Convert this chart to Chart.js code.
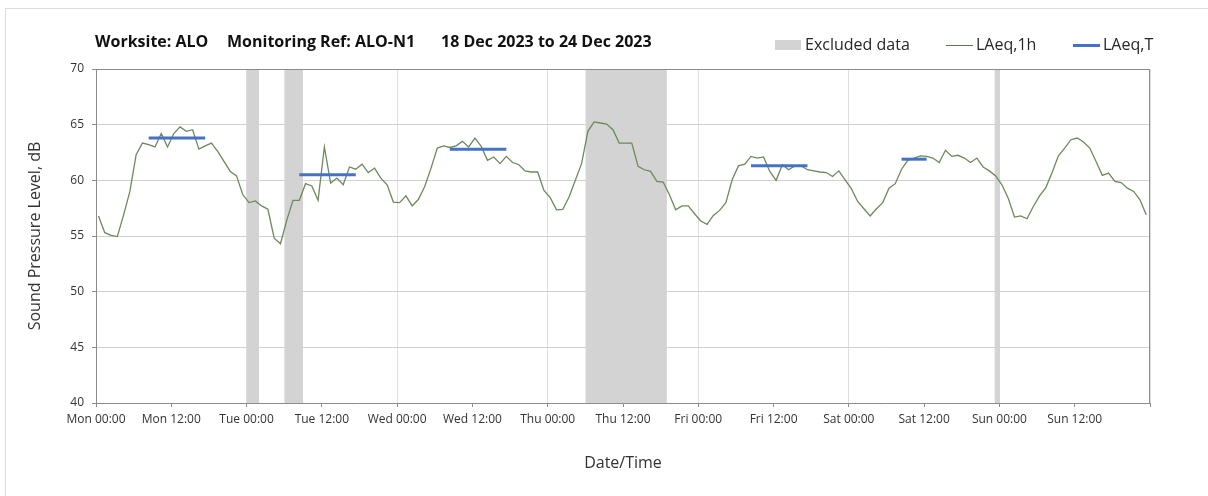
<!DOCTYPE html>
<html>
<head>
<meta charset="utf-8">
<script src="https://cdn.jsdelivr.net/npm/chart.js@4.4.1/dist/chart.umd.min.js"></script>
<style>
  html, body { margin: 0; padding: 0; background: #fff; }
  body { width: 1208px; height: 496px; position: relative; overflow: hidden; font-family: "Open Sans", sans-serif; }
  .frame { position: absolute; left: 5px; top: 8px; width: 1300px; height: 600px; border-left: 1px solid #dcdcdc; border-top: 1px solid #dcdcdc; }
  canvas { position: absolute; left: 0; top: 0; }
  .head { position: absolute; top: 31px; line-height: 20px; white-space: nowrap; }
  .title { font-weight: 700; font-size: 16px; color: #111; }
  .leg { top: 34px; font-size: 16px; color: #262626; }
  .sw { position: absolute; }
</style>
</head>
<body>
<div class="frame"></div>
<canvas id="chart" width="1208" height="496"></canvas>

<div class="head title" style="left:95px">Worksite: ALO</div>
<div class="head title" style="left:227px">Monitoring Ref: ALO-N1</div>
<div class="head title" style="left:441px">18 Dec 2023 to 24 Dec 2023</div>

<div class="sw" style="left:775px;top:40px;width:26px;height:10px;background:#d3d3d3"></div>
<div class="head leg" style="left:805px">Excluded data</div>
<div class="sw" style="left:946px;top:45px;width:27px;height:1px;background:#5d7b4e"></div>
<div class="head leg" style="left:976px">LAeq,1h</div>
<div class="sw" style="left:1073px;top:44px;width:27px;height:3px;background:#4472c4"></div>
<div class="head leg" style="left:1103px">LAeq,T</div>

<script>
// x axis labels, one every 12 hours (last one at 168h left blank)
const tickLabels = ['Mon 00:00', 'Mon 12:00', 'Tue 00:00', 'Tue 12:00', 'Wed 00:00', 'Wed 12:00',
  'Thu 00:00', 'Thu 12:00', 'Fri 00:00', 'Fri 12:00', 'Sat 00:00', 'Sat 12:00',
  'Sun 00:00', 'Sun 12:00', '']

// hourly readings start a little after the hour
const firstHour = 0.4

// LAeq,1h - one value per hour, Mon 00:00 .. Sun 23:00
const laeq1h = [
  56.8, 55.3, 55.05, 54.95, 56.9, 59.0, 62.3, 63.35, 63.2, 63.0, 64.2, 63.0,
  64.2, 64.8, 64.4, 64.55, 62.8, 63.1, 63.35, 62.6, 61.7, 60.8, 60.4, 58.7,
  58.0, 58.15, 57.7, 57.4, 54.8, 54.3, 56.4, 58.2, 58.2, 59.7, 59.5, 58.2,
  63.0, 59.75, 60.2, 59.6, 61.2, 61.0, 61.45, 60.7, 61.1, 60.2, 59.6, 58.05,
  58.0, 58.6, 57.7, 58.3, 59.45, 61.1, 62.9, 63.1, 62.95, 63.1, 63.5, 63.0,
  63.8, 63.05, 61.8, 62.1, 61.5, 62.15, 61.6, 61.4, 60.85, 60.75, 60.75, 59.1,
  58.45, 57.35, 57.4, 58.5, 60.0, 61.5, 64.4, 65.25, 65.15, 65.05, 64.55, 63.35,
  63.35, 63.35, 61.25, 60.95, 60.8, 59.9, 59.85, 58.7, 57.35, 57.7, 57.7, 57.0,
  56.35, 56.05, 56.85, 57.3, 58.0, 60.05, 61.3, 61.45, 62.15, 62.0, 62.1, 60.8,
  60.0, 61.4, 60.95, 61.3, 61.3, 60.95, 60.85, 60.75, 60.7, 60.35, 60.85, 60.05,
  59.25, 58.1, 57.45, 56.8, 57.45, 58.0, 59.3, 59.7, 61.0, 61.8, 62.0, 62.2,
  62.15, 62.0, 61.6, 62.7, 62.15, 62.25, 62.0, 61.6, 62.0, 61.2, 60.85, 60.4,
  59.6, 58.4, 56.7, 56.8, 56.55, 57.65, 58.6, 59.35, 60.7, 62.2, 62.9, 63.65,
  63.8, 63.45, 62.9, 61.7, 60.45, 60.65, 59.9, 59.8, 59.3, 59.0, 58.25, 56.9
]

// excluded periods (hours from Mon 00:00)
const excludedFrom = [24, 30, 78, 143.2]
const excludedTo = [26, 33, 91, 144.1]

// LAeq,T daytime periods (first and last hourly reading) and level
const periodFrom = [8, 32, 56, 104, 128]
const periodTo = [17, 41, 65, 113, 132]
const laeqT = [63.8, 60.5, 62.8, 61.3, 61.9]

const lineColor = '#6b8a5a'
const blueColor = '#4472c4'
const greyBand = '#d3d3d3'
const axisColor = '#8c8c8c'
const textColor = '#333333'

const datasets = []

periodFrom.forEach((from, i) => {
  datasets.push({
    label: 'LAeq,T',
    data: [{ x: from + firstHour, y: laeqT[i] }, { x: periodTo[i] + firstHour, y: laeqT[i] }],
    borderColor: blueColor,
    borderWidth: 3,
    borderCapStyle: 'butt',
    pointRadius: 0,
    order: 0
  })
})

datasets.push({
  label: 'LAeq,1h',
  data: laeq1h.map((v, i) => ({ x: i + firstHour, y: v })),
  borderColor: lineColor,
  borderWidth: 1.3,
  pointRadius: 0,
  tension: 0,
  order: 1
})

excludedFrom.forEach((from, i) => {
  datasets.push({
    label: 'Excluded data',
    data: [{ x: from, y: 70 }, { x: excludedTo[i], y: 70 }],
    borderWidth: 0,
    borderColor: 'rgba(0,0,0,0)',
    backgroundColor: greyBand,
    fill: 'start',
    pointRadius: 0,
    order: 2
  })
})

// top and right edges of the plot box
const plotFrame = {
  id: 'plotFrame',
  afterDatasetsDraw(chart) {
    const { ctx, chartArea: a } = chart
    const top = Math.round(a.top) + 0.5
    const right = Math.round(a.right) - 0.5
    ctx.save()
    ctx.strokeStyle = axisColor
    ctx.lineWidth = 1
    ctx.beginPath()
    ctx.moveTo(a.left, top)
    ctx.lineTo(right, top)
    ctx.lineTo(right, a.bottom)
    ctx.stroke()
    ctx.restore()
  }
}

new Chart(document.getElementById('chart'), {
  type: 'line',
  data: { datasets: datasets },
  plugins: [plotFrame],
  options: {
    responsive: false,
    animation: false,
    events: [],
    layout: { padding: { left: 0, top: 69, right: 58, bottom: 0 } },
    plugins: {
      legend: { display: false },
      tooltip: { enabled: false }
    },
    scales: {
      x: {
        type: 'linear',
        min: 0,
        max: 168,
        afterFit: (scale) => { scale.height = 93 },
        ticks: {
          stepSize: 12,
          autoSkip: false,
          maxRotation: 0,
          padding: 5,
          color: textColor,
          font: { family: 'Open Sans', size: 12 },
          callback: (value, index) => tickLabels[index]
        },
        grid: {
          color: (c) => (c.tick && c.tick.value % 24 === 0) ? '#dedede' : 'rgba(0,0,0,0)',
          tickColor: axisColor,
          tickLength: 4,
          lineWidth: 1
        },
        border: { color: axisColor, width: 1 },
        title: {
          display: true,
          text: 'Date/Time',
          color: textColor,
          font: { family: 'Open Sans', size: 16 },
          padding: { top: 0, bottom: 23 }
        }
      },
      y: {
        min: 40,
        max: 70,
        afterFit: (scale) => { scale.width = 96 },
        ticks: {
          stepSize: 5,
          padding: 8,
          color: textColor,
          font: { family: 'Open Sans', size: 12 }
        },
        grid: {
          color: '#d0d0d0',
          tickColor: axisColor,
          tickLength: 4,
          lineWidth: 1
        },
        border: { color: axisColor, width: 1 },
        title: {
          display: true,
          text: 'Sound Pressure Level, dB',
          color: textColor,
          font: { family: 'Open Sans', size: 16 },
          padding: { top: 26, bottom: 0 }
        }
      }
    }
  }
})
</script>
</body>
</html>
